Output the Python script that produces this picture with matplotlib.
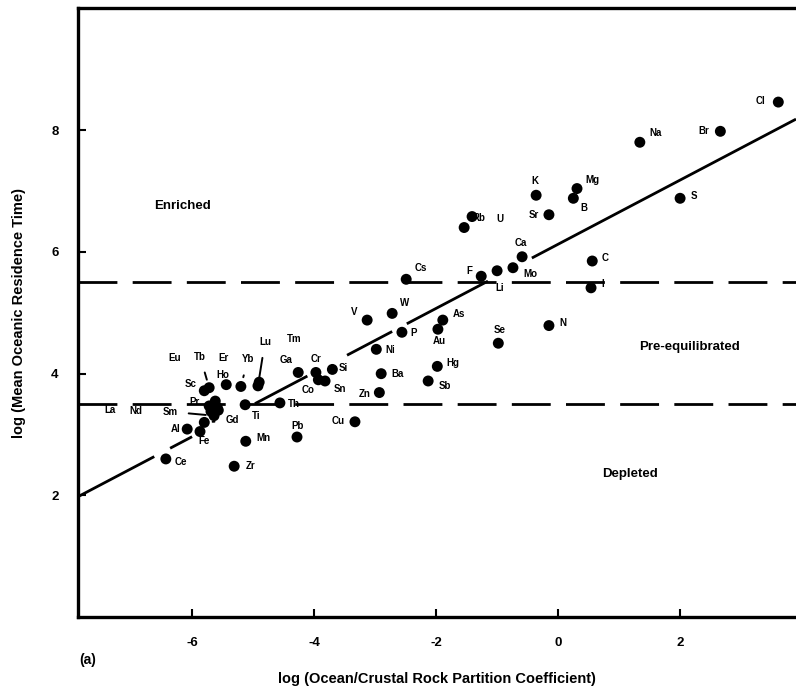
import matplotlib
matplotlib.use("Agg")
import matplotlib.pyplot as plt

plt.rcParams['font.family'] = ['Liberation Sans Narrow', 'Liberation Sans', 'DejaVu Sans']
plt.rcParams['font.weight'] = 'bold'

# ---- data (log partition coefficient, log residence time) ----
elements = ['Cl', 'Br', 'Na', 'S', 'Mg', 'B', 'K', 'Sr', 'Rb', 'U', 'Ca', 'Mo', 'Li', 'F',
            'Cs', 'C', 'I', 'W', 'V', 'P', 'As', 'Au', 'Se', 'N', 'Ni', 'Si', 'Cr', 'Co',
            'Sn', 'Ga', 'Ba', 'Hg', 'Sb', 'Zn', 'Cu', 'Pb', 'Th', 'Mn', 'Zr', 'Ti', 'Lu',
            'Tm', 'Yb', 'Er', 'Ho', 'Tb', 'Eu', 'Sc', 'Pr', 'La', 'Nd', 'Sm', 'Gd', 'Al',
            'Fe', 'Ce']
log_kd = [3.61, 2.66, 1.34, 2.00, 0.31, 0.25, -0.36, -0.15, -1.54, -1.41, -0.59, -0.74,
          -1.00, -1.26, -2.49, 0.56, 0.54, -2.72, -3.13, -2.56, -1.89, -1.97, -0.98, -0.15,
          -2.98, -3.70, -3.97, -3.93, -3.82, -4.26, -2.90, -1.98, -2.13, -2.93, -3.33,
          -4.28, -4.56, -5.12, -5.31, -5.13, -4.92, -4.90, -5.20, -5.62, -5.44, -5.72,
          -5.57, -5.80, -5.72, -5.59, -5.69, -5.64, -5.80, -6.08, -5.87, -6.43]
log_tau = [8.46, 7.98, 7.80, 6.88, 7.04, 6.88, 6.93, 6.61, 6.40, 6.58, 5.92, 5.74,
           5.69, 5.60, 5.55, 5.85, 5.41, 4.99, 4.88, 4.68, 4.88, 4.73, 4.50, 4.79,
           4.40, 4.07, 4.02, 3.90, 3.88, 4.02, 4.00, 4.12, 3.88, 3.69, 3.21,
           2.96, 3.52, 2.89, 2.48, 3.49, 3.80, 3.86, 3.79, 3.55, 3.82, 3.77,
           3.40, 3.72, 3.47, 3.45, 3.38, 3.31, 3.20, 3.09, 3.05, 2.60]

# regression line end points
fit_x = [-7.87, 3.90]
fit_y = [1.98, 8.18]
# horizontal boundaries
upper_bound = 5.50
lower_bound = 3.50

region_labels = ['Enriched', 'Pre-equilibrated', 'Depleted']
x_ticks = [-6, -4, -2, 0, 2]
y_ticks = [2, 4, 6, 8]

# ---- layout ----
label_offsets = {  # pixel offsets of labels from their points
    'Cl': (-18, 1), 'Br': (-17, 0), 'Na': (16, 9), 'S': (14, 2), 'Mg': (15, 9),
    'B': (11, -10), 'K': (-1, 14), 'Sr': (-15, 0), 'Rb': (15, 10), 'U': (28, -2),
    'Ca': (-1, 14), 'Mo': (17, -6), 'Li': (3, -17), 'F': (-12, 5), 'Cs': (15, 11),
    'C': (13, 3), 'I': (12, 4), 'W': (12, 10), 'V': (-13, 8), 'P': (12, -1),
    'As': (16, 6), 'Au': (1, -12), 'Se': (1, 13), 'N': (14, 3), 'Ni': (14, -1),
    'Si': (11, 1), 'Cr': (0, 13), 'Co': (-10, -10), 'Sn': (15, -8), 'Ga': (-12, 12),
    'Ba': (16, 0), 'Hg': (16, 3), 'Sb': (17, -5), 'Zn': (-15, -1), 'Cu': (-17, 1),
    'Pb': (1, 11), 'Th': (14, -1), 'Mn': (18, 3), 'Zr': (16, 0), 'Ti': (11, -11),
    'Lu': (7, 44), 'Tm': (35, 43), 'Yb': (7, 27), 'Er': (8, 43), 'Ho': (-3, 10),
    'Tb': (-9, 31), 'Eu': (-44, 52), 'Sc': (-14, 7), 'Pr': (-15, 4), 'La': (-107, -3),
    'Nd': (-75, 0), 'Sm': (-44, 4), 'Gd': (28, 2), 'Al': (-12, 0), 'Fe': (4, -9),
    'Ce': (15, -3),
}
leaders = {'Lu': '-', 'Yb': ':', 'Tb': '-', 'Sm': '-', 'Gd': '-'}

fig = plt.figure(figsize=(7.96, 6.92), dpi=100)
ax = fig.add_axes([0.098, 0.108, 0.902, 0.880])
ax.set_xlim(-7.87, 3.9)
ax.set_ylim(0, 10.0)

# regression line drawn with small gaps, as in the original
slope = (fit_y[1] - fit_y[0]) / (fit_x[1] - fit_x[0])
pieces = [(-7.87, -6.62), (-6.36, -6.0), (-4.97, -4.11), (-3.46, -2.72), (-2.48, -1.15), (-0.43, 3.9)]
for a, b in pieces:
    ax.plot([a, b], [fit_y[0] + slope * (a - fit_x[0]), fit_y[0] + slope * (b - fit_x[0])],
            color='black', lw=2.0, solid_capstyle='butt', zorder=2)

for yb in (upper_bound, lower_bound):
    ax.axhline(yb, color='black', lw=2.0, dashes=(14, 5.5), zorder=1)

ax.scatter(log_kd, log_tau, s=62, color='black', zorder=3, edgecolors='none')

for el, x, y in zip(elements, log_kd, log_tau):
    dx, dy = label_offsets[el]
    kw = {}
    if el in leaders:
        kw['arrowprops'] = dict(arrowstyle='-', lw=1.4, color='black',
                                linestyle=leaders[el], shrinkA=6, shrinkB=6)
    ax.annotate(el, (x, y), xytext=(dx, dy), textcoords='offset pixels',
                ha='center', va='center', fontsize=7, fontweight='bold', **kw)

ax.text(-6.15, 6.76, region_labels[0], ha='center', va='center', fontsize=9.5, fontweight='bold')
ax.text(2.16, 4.43, region_labels[1], ha='center', va='center', fontsize=9.5, fontweight='bold')
ax.text(1.18, 2.36, region_labels[2], ha='center', va='center', fontsize=9.5, fontweight='bold')

ax.set_xticks(x_ticks)
ax.set_yticks(y_ticks)
ax.set_xticklabels([str(t) for t in x_ticks], fontsize=9.5, fontweight='bold')
ax.set_yticklabels([str(t) for t in y_ticks], fontsize=9.5, fontweight='bold')
ax.tick_params(direction='in', length=6, width=1.5, pad=14)
for side in ('left', 'bottom', 'top'):
    ax.spines[side].set_linewidth(2.4)
ax.spines['right'].set_visible(False)

ax.set_xlabel('log (Ocean/Crustal Rock Partition Coefficient)', fontsize=10.5,
              fontweight='bold', labelpad=17)
ax.set_ylabel('log (Mean Oceanic Residence Time)', fontsize=10.5,
              fontweight='bold', labelpad=18)
fig.text(88 / 796, 1 - 660 / 692, '(a)', ha='center', va='center', fontsize=10, fontweight='bold')

fig.savefig('out.png', dpi=100)
